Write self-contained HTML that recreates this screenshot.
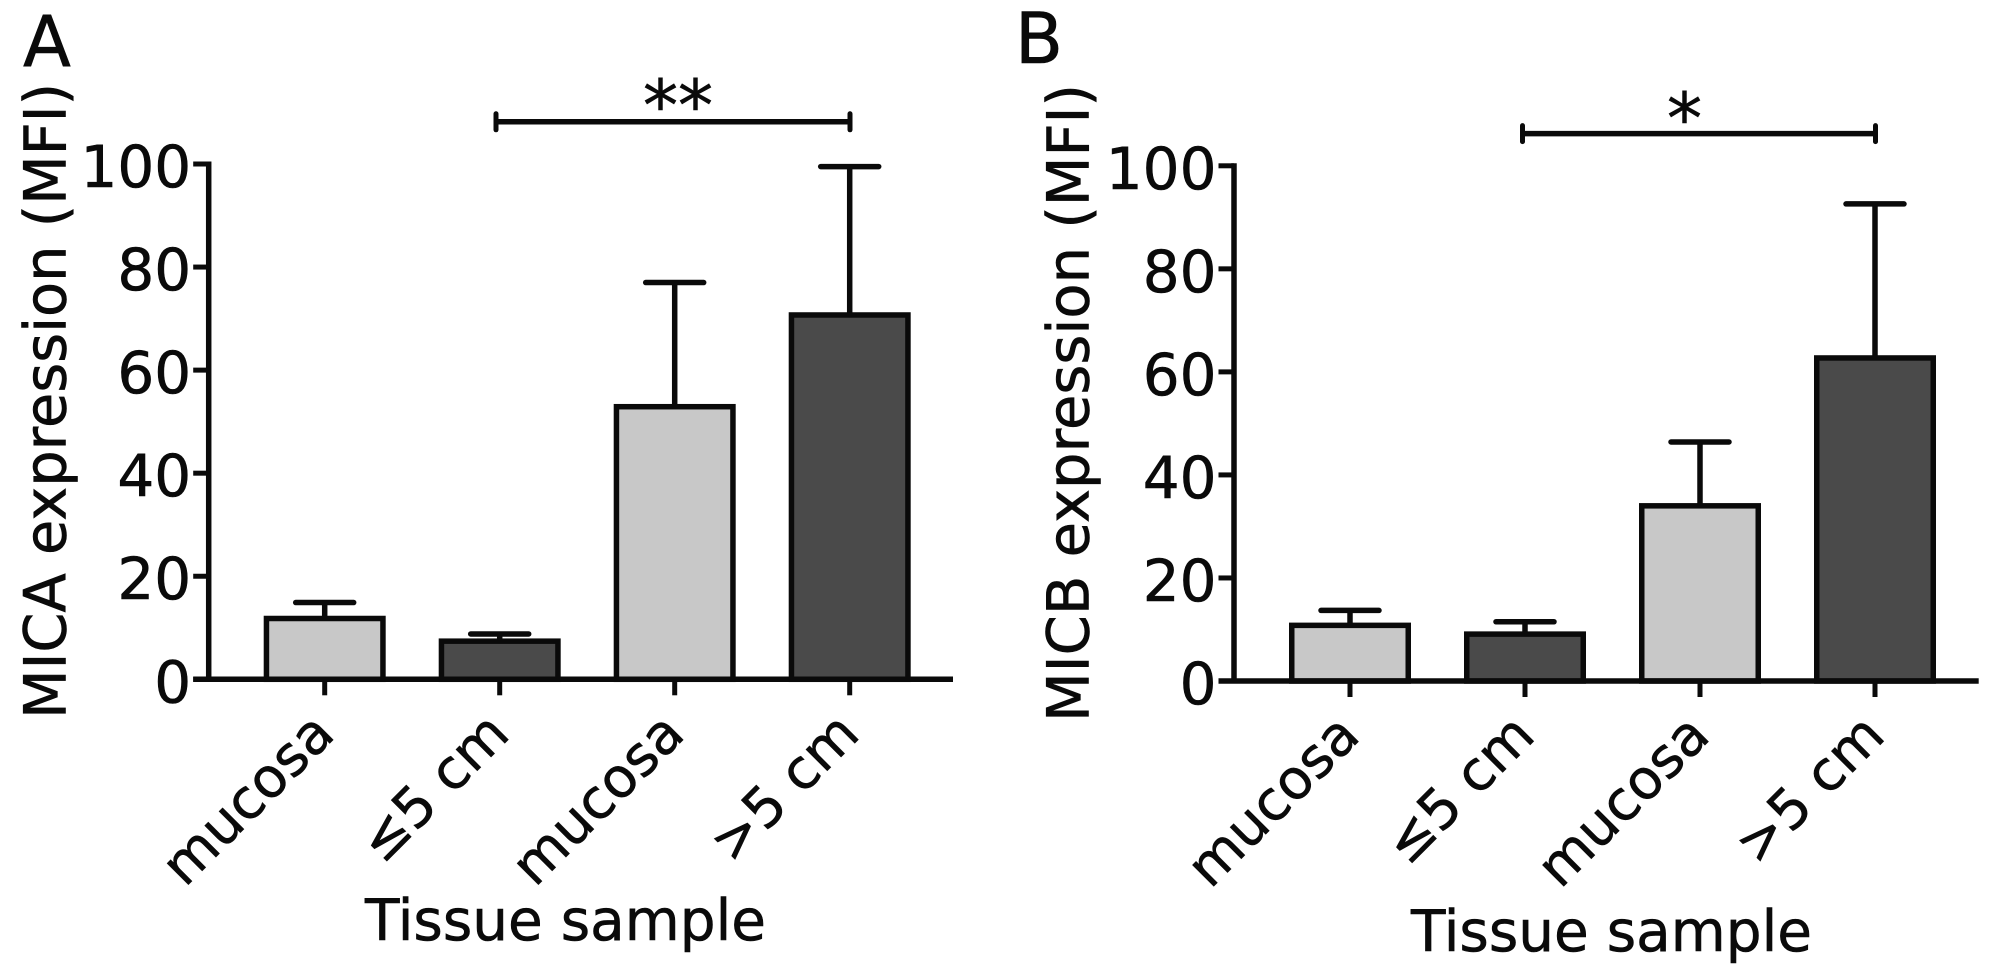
<!DOCTYPE html>
<html lang="en">
<head>
<meta charset="utf-8">
<title>MICA and MICB expression by tissue sample</title>
<style>
html,body{margin:0;padding:0;background:#fff;width:1994px;height:969px;overflow:hidden}
svg{display:block}
text{font-family:"DejaVu Sans","Liberation Sans",sans-serif;fill:#0a0a0a;stroke:#0a0a0a;stroke-width:.6px}
</style>
</head>
<body>
<svg id="figure" xmlns="http://www.w3.org/2000/svg" width="1994" height="969" viewBox="0 0 1994 969">
<rect width="1994" height="969" fill="#fff"/>
<text x="23" y="66" font-size="70">A</text>
<text x="1015" y="63" font-size="70">B</text>
<text transform="translate(65.5 719) rotate(-90)" font-size="58" textLength="636" lengthAdjust="spacingAndGlyphs">MICA expression (MFI)</text>
<text transform="translate(1088.5 722) rotate(-90)" font-size="58" textLength="638" lengthAdjust="spacingAndGlyphs">MICB expression (MFI)</text>
<text x="365" y="940" font-size="57" textLength="401" lengthAdjust="spacingAndGlyphs">Tissue sample</text>
<text x="1411" y="951" font-size="57" textLength="401" lengthAdjust="spacingAndGlyphs">Tissue sample</text>
<text x="678" y="130" font-size="70" text-anchor="middle">**</text>
<text x="1684.5" y="143" font-size="70" text-anchor="middle">*</text>
</svg>
<script>
const categories = ['mucosa', '\u22645 cm', 'mucosa', '>5 cm'];
const yTickValues = [0, 20, 40, 60, 80, 100];
const micaMeans = [11.8, 7.4, 52.9, 70.7];
const micaErrors = [3.1, 1.4, 24.1, 28.8];
const micbMeans = [10.8, 9.1, 34.0, 62.7];
const micbErrors = [2.9, 2.4, 12.4, 29.9];
const barFills = ['#c8c8c8', '#4a4a4a', '#c8c8c8', '#4a4a4a'];

const svg = document.getElementById('figure');
const NS = 'http://www.w3.org/2000/svg';
const INK = '#0a0a0a';

function make(tag, props, parent) {
  const node = document.createElementNS(NS, tag);
  for (const k in props) node.setAttribute(k, props[k]);
  parent.appendChild(node);
  return node;
}

function drawPanel(prefix, means, errors, layout) {
  const yScale = v => layout.y0 - (v / 100) * (layout.y0 - layout.y100);
  const xScale = i => layout.x0 + i * layout.step;
  const g = make('g', {}, svg);
  
  

  means.forEach((m, i) => {
    const cx = xScale(i);
    const top = yScale(m);
    const capY = yScale(m + errors[i]);

    const stem = make('line', {x1: cx, x2: cx, y1: top, y2: capY, stroke: INK, 'stroke-width': 5.5}, g);
    
    

    const cap = make('line', {x1: cx - 29, x2: cx + 29, y1: capY, y2: capY, stroke: INK, 'stroke-width': 5.5, 'stroke-linecap': 'round'}, g);
    
    

    const bar = make('rect', {x: cx - 58.25, y: top, width: 116.5, height: layout.y0 - top, fill: barFills[i], stroke: INK, 'stroke-width': 5.5}, g);
    
    
  });

  const yAxis = make('line', {x1: layout.axisX, x2: layout.axisX, y1: layout.y100 - 2.5, y2: layout.y0 + 2.5, stroke: INK, 'stroke-width': 5.5}, g);
  
  

  const xAxis = make('line', {x1: layout.axisX - 15.5, x2: layout.xEnd, y1: layout.y0, y2: layout.y0, stroke: INK, 'stroke-width': 5.5}, g);
  
  

  yTickValues.forEach(v => {
    const y = yScale(v);
    const tick = make('line', {x1: layout.axisX - 15.5, x2: layout.axisX, y1: y, y2: y, stroke: INK, 'stroke-width': 5}, g);
    
    

    const label = make('text', {x: layout.axisX - 17.5, y: y + 23, 'font-size': 58, 'text-anchor': 'end'}, g);
    label.textContent = String(v);
    
    
  });

  categories.forEach((c, i) => {
    const cx = xScale(i);
    const tick = make('line', {x1: cx, x2: cx, y1: layout.y0, y2: layout.y0 + 16, stroke: INK, 'stroke-width': 5}, g);
    
    

    const ax = cx + 12;
    const ay = layout.y0 + 57;
    const label = make('text', {transform: 'translate(' + ax + ' ' + ay + ') rotate(-45)', 'font-size': 55, 'text-anchor': 'end'}, g);
    label.textContent = c;
    
    
  });

  const b = layout.bracket;
  const bar = make('line', {x1: b.x1, x2: b.x2, y1: b.y, y2: b.y, stroke: INK, 'stroke-width': 5.5}, g);
  
  
  const capL = make('line', {x1: b.x1, x2: b.x1, y1: b.y - 8, y2: b.y + 8, stroke: INK, 'stroke-width': 5, 'stroke-linecap': 'round'}, g);
  
  
  const capR = make('line', {x1: b.x2, x2: b.x2, y1: b.y - 8, y2: b.y + 8, stroke: INK, 'stroke-width': 5, 'stroke-linecap': 'round'}, g);
  
  
}

drawPanel('panel-a', micaMeans, micaErrors, {
  axisX: 208.7, xEnd: 953, y0: 679.3, y100: 164, x0: 324.7, step: 175,
  bracket: {x1: 496, x2: 850, y: 121.8}
});
drawPanel('panel-b', micbMeans, micbErrors, {
  axisX: 1234, xEnd: 1978.7, y0: 681, y100: 165.8, x0: 1350, step: 175,
  bracket: {x1: 1522.5, x2: 1875.5, y: 133.6}
});
</script>
</body>
</html>
